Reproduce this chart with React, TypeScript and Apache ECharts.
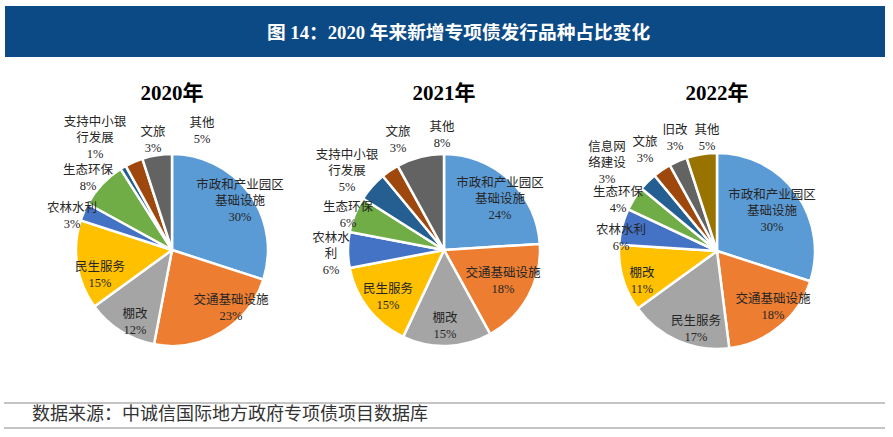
import React, { useEffect, useRef } from "react";
import * as echarts from "echarts";

// ---- Data ----
const categories2020 = ["市政和产业园区基础设施", "交通基础设施", "棚改", "民生服务", "农林水利", "生态环保", "支持中小银行发展", "文旅", "其他"];
const values2020 = [30, 23, 12, 15, 3, 8, 1, 3, 5];

const categories2021 = ["市政和产业园区基础设施", "交通基础设施", "棚改", "民生服务", "农林水利", "生态环保", "支持中小银行发展", "文旅", "其他"];
const values2021 = [24, 18, 15, 15, 6, 6, 5, 3, 8];

const categories2022 = ["市政和产业园区基础设施", "交通基础设施", "民生服务", "棚改", "农林水利", "生态环保", "信息网络建设", "文旅", "旧改", "其他"];
const values2022 = [30, 18, 17, 11, 6, 4, 3, 3, 3, 5];

const yearTitles = ["2020年", "2021年", "2022年"];
const mainTitle = "图 14：2020 年来新增专项债发行品种占比变化";
const sourceText = "数据来源：中诚信国际地方政府专项债项目数据库";

// ---- Style / layout ----
const palette = ["#5B9BD5", "#ED7D31", "#A5A5A5", "#FFC000", "#4472C4", "#70AD47", "#255E91", "#9E480E", "#636363", "#997300"];
const baseWrap: Record<string, string> = {
  "市政和产业园区基础设施": "市政和产业园区\n基础设施",
  "支持中小银行发展": "支持中小银\n行发展",
  "信息网络建设": "信息网\n络建设",
};
const wrap2021: Record<string, string> = { ...baseWrap, "农林水利": "农林水\n利" };

const pieCenters: [number, number][] = [[172, 250], [444, 250], [717, 251]];
const pieRadii = [96, 96, 98];
const labelOffsets2020: [number, number][] = [[68, -49], [59, 58], [-37, 72], [-72, 25], [-100, -34], [-84, -72], [-77, -112], [-19, -110], [30, -119]];
const labelOffsets2021: [number, number][] = [[56, -51], [59, 31], [1, 76], [-56, 47], [-113, 4], [-96, -35], [-97, -79], [-46, -110], [-2, -115]];
const labelOffsets2022: [number, number][] = [[55, -40], [56, 56], [-21, 78], [-75, 30], [-96, -13], [-99, -51], [-110, -88], [-72, -101], [-42, -113], [-10, -113]];

const labelFont = "'Liberation Serif', 'Noto Sans CJK SC', serif";

function makePie(
  cats: string[],
  vals: number[],
  center: [number, number],
  radius: number,
  offsets: [number, number][],
  wrapMap: Record<string, string>
) {
  return {
    type: "pie",
    center,
    radius: [0, radius],
    startAngle: 90,
    clockwise: true,
    avoidLabelOverlap: false,
    silent: true,
    itemStyle: { borderColor: "#ffffff", borderWidth: 2.5 },
    label: {
      show: true,
      position: "inside",
      color: "#262626",
      fontFamily: labelFont,
      fontSize: 12.5,
      lineHeight: 16,
      align: "center",
      formatter: (p: any) => `${wrapMap[p.name] ?? p.name}\n${p.value}%`,
    },
    labelLine: { show: false },
    labelLayout: (p: any) => {
      const off = offsets[p.dataIndex];
      return { x: center[0] + off[0], y: center[1] + off[1], align: "center", verticalAlign: "middle" };
    },
    data: cats.map((name, i) => ({ name, value: vals[i], itemStyle: { color: palette[i % palette.length] } })),
  };
}

export default function App() {
  const ref = useRef<HTMLDivElement>(null);
  useEffect(() => {
    if (!ref.current) return;
    const chart = echarts.init(ref.current, undefined, { renderer: "svg" });
    chart.setOption({
      animation: false,
      backgroundColor: "#ffffff",
      graphic: [
        { type: "rect", shape: { x: 5, y: 6, width: 880, height: 51 }, style: { fill: "#0C4A86" } },
        {
          type: "text",
          x: 267,
          y: 32,
          style: {
            text: mainTitle,
            fill: "#ffffff",
            font: "bold 18.7px 'Liberation Serif', 'Noto Sans CJK SC', serif",
            textAlign: "left",
            textVerticalAlign: "middle",
          },
        },
        ...yearTitles.map((t, i) => ({
          type: "text",
          x: pieCenters[i][0],
          y: 93,
          style: {
            text: t,
            fill: "#000000",
            font: "bold 21px 'Liberation Serif', 'Noto Sans CJK SC', serif",
            textAlign: "center",
            textVerticalAlign: "middle",
          },
        })),
        { type: "line", shape: { x1: 4, y1: 403, x2: 885, y2: 403 }, style: { stroke: "#8a8a8a", lineWidth: 1 } },
        { type: "line", shape: { x1: 4, y1: 428, x2: 885, y2: 428 }, style: { stroke: "#8a8a8a", lineWidth: 1 } },
        {
          type: "text",
          x: 32,
          y: 414,
          style: {
            text: sourceText,
            fill: "#333333",
            font: "18px 'Liberation Serif', 'Noto Sans CJK SC', serif",
            textAlign: "left",
            textVerticalAlign: "middle",
          },
        },
      ],
      series: [
        makePie(categories2020, values2020, pieCenters[0], pieRadii[0], labelOffsets2020, baseWrap),
        makePie(categories2021, values2021, pieCenters[1], pieRadii[1], labelOffsets2021, wrap2021),
        makePie(categories2022, values2022, pieCenters[2], pieRadii[2], labelOffsets2022, baseWrap),
      ],
    });
    return () => chart.dispose();
  }, []);
  return (
    <div
      ref={ref}
      style={{ position: "absolute", left: 0, top: 0, width: 893, height: 437 }}
    />
  );
}
